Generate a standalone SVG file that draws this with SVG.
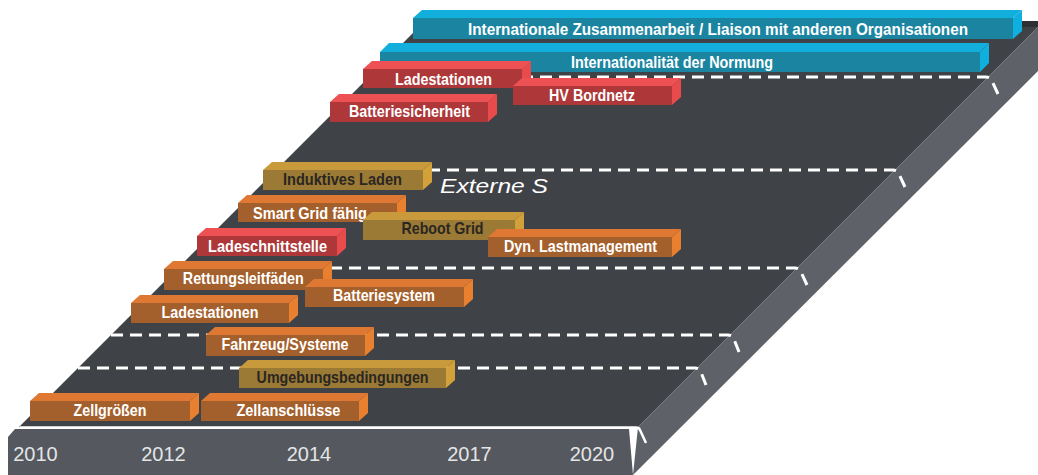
<svg xmlns="http://www.w3.org/2000/svg" width="1038" height="475" viewBox="0 0 1038 475">
<style>
text{font-family:"Liberation Sans",Arial,sans-serif;}
.lbl{font-size:17px;font-weight:bold;text-anchor:middle;fill:#ffffff;}
.gold .lbl{fill:#2a2622;}
.yr{font-size:20px;fill:#e4e5e7;text-anchor:middle;}
.blue .front{fill:#1b85a1;} .blue .top{fill:#12afdc;} .blue .side{fill:#0fb0e0;}
.red .front{fill:#ad3739;} .red .top{fill:#ee5153;} .red .side{fill:#e94b4d;}
.orange .front{fill:#a4602c;} .orange .top{fill:#df7833;} .orange .side{fill:#e8802f;}
.gold .front{fill:#9a7a34;} .gold .top{fill:#c99a3b;} .gold .side{fill:#d2a13a;}
.lane{fill:none;stroke:#ffffff;stroke-width:3;stroke-dasharray:12 7;}
</style>
<rect width="1038" height="475" fill="#ffffff"/>
<g id="platform">
<polygon points="638,427 1041,24 1045,24 1045,64 633,475" fill="#5e6168"/>
<polygon points="422,24 1041,24 638,427 19,427" fill="#3f4247"/>
<polygon points="422,21 1041,21 1041,27 422,27" fill="#2e3034"/>
<polygon points="8,437 15,429 629,429 633,475 8,475" fill="#55585e"/>
<path d="M20,427.5 H636 Q639,427.5 640,430 L646,443" fill="none" stroke="#ffffff" stroke-width="2.5"/>
<text class="yr" x="35.5" y="461">2010</text>
<text class="yr" x="163.5" y="461">2012</text>
<text class="yr" x="309" y="461">2014</text>
<text class="yr" x="469.5" y="461">2017</text>
<text class="yr" x="592" y="461">2020</text>
</g>
<g id="lanes">
<path class="lane" d="M369,77 H986 Q990,77 991.5,80 L998,94"/>
<path class="lane" d="M276,170 H893 Q897,170 898.5,173 L905,187"/>
<path class="lane" d="M178,268 H795 Q799,268 800.5,271 L807,285"/>
<path class="lane" d="M111,335 H728 Q732,335 733.5,338 L739,352"/>
<path class="lane" d="M78,368 H695 Q699,368 700.5,371 L706,385"/>
</g>
<text id="externe" x="440" y="193" font-size="21" font-style="italic" fill="#ffffff" textLength="108" lengthAdjust="spacingAndGlyphs">Externe S</text>
<g id="n-intl-zusammenarbeit" class="blue">
<polygon class="top" points="413,18 422,10 1022,10 1013,18"/>
<polygon class="side" points="1013,18 1022,10 1022,31 1013,39"/>
<rect class="front" x="413" y="18" width="600" height="21"/>
<text class="lbl" x="718" y="35" textLength="500" lengthAdjust="spacingAndGlyphs">Internationale Zusammenarbeit / Liaison mit anderen Organisationen</text>
</g>
<g id="n-intl-normung" class="blue">
<polygon class="top" points="380,52 389,43 989,43 980,52"/>
<polygon class="side" points="980,52 989,43 989,63 980,72"/>
<rect class="front" x="380" y="52" width="600" height="20"/>
<text class="lbl" x="672" y="68" textLength="202" lengthAdjust="spacingAndGlyphs">Internationalität der Normung</text>
</g>
<g id="n-ladestationen-red" class="red">
<polygon class="top" points="363,69 372,61 531,61 522,69"/>
<polygon class="side" points="522,69 531,61 531,80 522,88"/>
<rect class="front" x="363" y="69" width="159" height="19"/>
<text class="lbl" x="443.5" y="85" textLength="97" lengthAdjust="spacingAndGlyphs">Ladestationen</text>
</g>
<g id="n-hv-bordnetz" class="red">
<polygon class="top" points="513,86 522,78 681,78 672,86"/>
<polygon class="side" points="672,86 681,78 681,97 672,105"/>
<rect class="front" x="513" y="86" width="159" height="19"/>
<text class="lbl" x="592" y="101" textLength="86" lengthAdjust="spacingAndGlyphs">HV Bordnetz</text>
</g>
<g id="n-batteriesicherheit" class="red">
<polygon class="top" points="330,102 339,94 497,94 488,102"/>
<polygon class="side" points="488,102 497,94 497,114 488,122"/>
<rect class="front" x="330" y="102" width="158" height="20"/>
<text class="lbl" x="409.5" y="117" textLength="121" lengthAdjust="spacingAndGlyphs">Batteriesicherheit</text>
</g>
<g id="n-induktives-laden" class="gold">
<polygon class="top" points="263,170 272,162 432,162 423,170"/>
<polygon class="side" points="423,170 432,162 432,182 423,190"/>
<rect class="front" x="263" y="170" width="160" height="20"/>
<text class="lbl" x="342.5" y="184.5" textLength="119" lengthAdjust="spacingAndGlyphs">Induktives Laden</text>
</g>
<g id="n-smart-grid" class="orange">
<polygon class="top" points="238,203 247,195 406,195 397,203"/>
<polygon class="side" points="397,203 406,195 406,214 397,222"/>
<rect class="front" x="238" y="203" width="159" height="19"/>
<text class="lbl" x="310" y="218.5" textLength="114" lengthAdjust="spacingAndGlyphs">Smart Grid fähig</text>
</g>
<g id="n-reboot-grid" class="gold">
<polygon class="top" points="363,220 372,212 524,212 515,220"/>
<polygon class="side" points="515,220 524,212 524,232 515,240"/>
<rect class="front" x="363" y="220" width="152" height="20"/>
<text class="lbl" x="442.5" y="233.5" textLength="82" lengthAdjust="spacingAndGlyphs">Reboot Grid</text>
</g>
<g id="n-ladeschnittstelle" class="red">
<polygon class="top" points="197,236 206,228 346,228 337,236"/>
<polygon class="side" points="337,236 346,228 346,248 337,256"/>
<rect class="front" x="197" y="236" width="140" height="20"/>
<text class="lbl" x="267.5" y="252" textLength="119" lengthAdjust="spacingAndGlyphs">Ladeschnittstelle</text>
</g>
<g id="n-dyn-lastmanagement" class="orange">
<polygon class="top" points="488,237 497,229 681,229 672,237"/>
<polygon class="side" points="672,237 681,229 681,249 672,257"/>
<rect class="front" x="488" y="237" width="184" height="20"/>
<text class="lbl" x="580.5" y="251.5" textLength="153" lengthAdjust="spacingAndGlyphs">Dyn. Lastmanagement</text>
</g>
<g id="n-rettungsleitfaeden" class="orange">
<polygon class="top" points="164,269 173,261 332,261 323,269"/>
<polygon class="side" points="323,269 332,261 332,282 323,290"/>
<rect class="front" x="164" y="269" width="159" height="21"/>
<text class="lbl" x="243.3" y="284" textLength="121" lengthAdjust="spacingAndGlyphs">Rettungsleitfäden</text>
</g>
<g id="n-batteriesystem" class="orange">
<polygon class="top" points="305,287 314,279 473,279 464,287"/>
<polygon class="side" points="464,287 473,279 473,299 464,307"/>
<rect class="front" x="305" y="287" width="159" height="20"/>
<text class="lbl" x="384" y="301" textLength="102" lengthAdjust="spacingAndGlyphs">Batteriesystem</text>
</g>
<g id="n-ladestationen-orange" class="orange">
<polygon class="top" points="131,303 140,295 298,295 289,303"/>
<polygon class="side" points="289,303 298,295 298,315 289,323"/>
<rect class="front" x="131" y="303" width="158" height="20"/>
<text class="lbl" x="210" y="317.5" textLength="97" lengthAdjust="spacingAndGlyphs">Ladestationen</text>
</g>
<g id="n-fahrzeug-systeme" class="orange">
<polygon class="top" points="206,335 215,327 374,327 365,335"/>
<polygon class="side" points="365,335 374,327 374,348 365,356"/>
<rect class="front" x="206" y="335" width="159" height="21"/>
<text class="lbl" x="285" y="350" textLength="127" lengthAdjust="spacingAndGlyphs">Fahrzeug/Systeme</text>
</g>
<g id="n-umgebungsbedingungen" class="gold">
<polygon class="top" points="239,368 248,360 455,360 446,368"/>
<polygon class="side" points="446,368 455,360 455,380 446,388"/>
<rect class="front" x="239" y="368" width="207" height="20"/>
<text class="lbl" x="342.6" y="382.5" textLength="172" lengthAdjust="spacingAndGlyphs">Umgebungsbedingungen</text>
</g>
<g id="n-zellgroessen" class="orange">
<polygon class="top" points="30,401 39,393 199,393 190,401"/>
<polygon class="side" points="190,401 199,393 199,413 190,421"/>
<rect class="front" x="30" y="401" width="160" height="20"/>
<text class="lbl" x="110" y="416" textLength="73" lengthAdjust="spacingAndGlyphs">Zellgrößen</text>
</g>
<g id="n-zellanschluesse" class="orange">
<polygon class="top" points="201,401 210,393 368,393 359,401"/>
<polygon class="side" points="359,401 368,393 368,413 359,421"/>
<rect class="front" x="201" y="401" width="158" height="20"/>
<text class="lbl" x="288.4" y="416" textLength="104" lengthAdjust="spacingAndGlyphs">Zellanschlüsse</text>
</g>
</svg>
